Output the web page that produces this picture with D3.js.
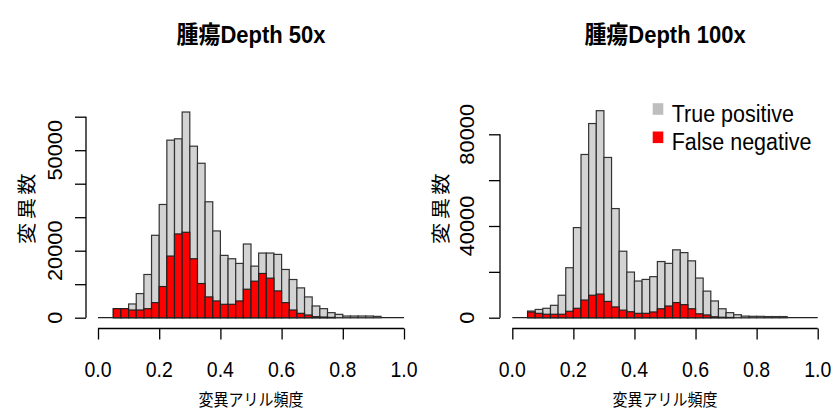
<!DOCTYPE html>
<html>
<head>
<meta charset="utf-8">
<script src="https://cdn.jsdelivr.net/npm/d3@7"></script>
<style>
  html, body { margin: 0; padding: 0; background: #fff; }
  svg { display: block; }
  text { fill: #000; }
</style>
</head>
<body>
<svg id="chart" width="832" height="413"></svg>
<script>
// Histogram bins: allele frequency, width 0.025 starting at 0.05
const binStart = 0.05;
const binWidth = 0.025;

// Depth 50x: all variants (grey) and false negatives (red) per bin
const total50 = [2700, 2700, 4100, 7200, 12900, 24600, 33800, 53000, 53400, 61400,
                 51200, 46100, 34600, 25900, 18600, 17600, 16200, 22000, 15400, 19300,
                 19300, 18900, 14400, 11400, 8900, 6200, 3500, 2700, 1500, 1000,
                 500, 500, 500, 500, 400];
const fn50 = [2700, 2700, 2300, 2300, 2700, 4500, 9300, 18400, 25000, 25500,
              17600, 10200, 6200, 5000, 4000, 4000, 5000, 8500, 10900, 13200,
              11800, 8000, 4500, 2300, 1300, 800, 300, 200, 100, 0,
              0, 0, 0, 0, 0];

// Depth 100x
const total100 = [2900, 3600, 4100, 5400, 9800, 21800, 39300, 71200, 84700, 90300,
                  69900, 47600, 29000, 19900, 16000, 16700, 17900, 24500, 23700, 29600,
                  28400, 24800, 17300, 11600, 7300, 3900, 2200, 1300, 700, 600,
                  600, 500, 500, 500];
const fn100 = [2500, 1900, 1500, 1500, 1500, 2800, 4100, 7700, 9800, 10300,
               7100, 4700, 3300, 2600, 1900, 1900, 2500, 3900, 5100, 6600,
               5700, 3900, 1700, 1200, 400, 200, 100, 0, 0, 0,
               0, 0, 0, 0];

const xTicks = [0, 0.2, 0.4, 0.6, 0.8, 1.0];
const yTicks50 = [0, 10000, 20000, 30000, 40000, 50000, 60000];
const yLabels50 = [0, 20000, 50000];
const yTicks100 = [0, 20000, 40000, 60000, 80000];
const yLabels100 = [0, 40000, 80000];

const titles = ["腫瘍Depth 50x", "腫瘍Depth 100x"];
const xTitle = "変異アリル頻度";
const yTitle = "変異数";
const legendLabels = ["True positive", "False negative"];

const svg = d3.select("#chart");
const latin = "'Liberation Sans', Arial, 'Noto Sans CJK JP', sans-serif";
const cjk = "'Noto Sans CJK JP', 'Liberation Sans', sans-serif";

function panel(cfg) {
  const x = d3.scaleLinear().domain([0, 1]).range([cfg.x0, cfg.x1]);
  const y = d3.scaleLinear().domain([0, cfg.yMax]).range([317.7, cfg.yTop]);
  const g = svg.append("g");

  const bins = cfg.total.map((t, i) => ({
    lo: binStart + i * binWidth,
    hi: binStart + (i + 1) * binWidth,
    total: t,
    fn: cfg.fn[i]
  }));

  // zero line across the frequency range
  g.append("line")
    .attr("x1", x(0)).attr("x2", x(1))
    .attr("y1", y(0)).attr("y2", y(0))
    .attr("stroke", "#222").attr("stroke-width", 1.2);

  // all variants
  g.selectAll("rect.tot").data(bins).join("rect")
    .attr("class", "tot")
    .attr("x", d => x(d.lo)).attr("width", d => x(d.hi) - x(d.lo))
    .attr("y", d => y(d.total)).attr("height", d => y(0) - y(d.total))
    .attr("fill", "#d3d3d3").attr("stroke", "#333").attr("stroke-width", 1.2);

  // false negatives drawn over the top
  g.selectAll("rect.fn").data(bins.filter(d => d.fn > 0)).join("rect")
    .attr("class", "fn")
    .attr("x", d => x(d.lo)).attr("width", d => x(d.hi) - x(d.lo))
    .attr("y", d => y(d.fn)).attr("height", d => y(0) - y(d.fn))
    .attr("fill", "#ff0000").attr("stroke", "#222").attr("stroke-width", 1.2);

  // x axis
  const xAxis = d3.axisBottom(x).tickValues(xTicks).tickSize(11).tickFormat("");
  const xa = g.append("g").attr("transform", "translate(0,328.5)").call(xAxis);
  xa.select(".domain").attr("stroke", "#000").attr("stroke-width", 1.3)
    .attr("d", `M${x(0)},0H${x(1)}`);
  xa.selectAll(".tick line").attr("stroke", "#000").attr("stroke-width", 1.3);

  xTicks.forEach(v => {
    g.append("text")
      .attr("transform", `translate(${x(v)},377) scale(1,1.1)`)
      .attr("text-anchor", "middle")
      .style("font-family", latin).style("font-size", "19.5px")
      .text(d3.format(".1f")(v));
  });

  // y axis
  const yAxis = d3.axisLeft(y).tickValues(cfg.yTicks).tickSize(11).tickFormat("");
  const ya = g.append("g").attr("transform", `translate(${cfg.yAxisX},0)`).call(yAxis);
  ya.select(".domain").attr("stroke", "#000").attr("stroke-width", 1.3)
    .attr("d", `M0,${y(cfg.yTicks[cfg.yTicks.length - 1])}V${y(0)}`);
  ya.selectAll(".tick line").attr("stroke", "#000").attr("stroke-width", 1.3);

  cfg.yLabels.forEach(v => {
    g.append("text")
      .attr("transform", `translate(${cfg.yLabelX},${y(v)}) rotate(-90) scale(1.12,1)`)
      .attr("text-anchor", "middle")
      .style("font-family", latin).style("font-size", "19.5px")
      .text(v);
  });

  // titles
  g.append("text")
    .attr("transform", `translate(${(x(0) + x(1)) / 2},43) scale(1,1.08)`)
    .attr("text-anchor", "middle")
    .style("font-family", latin).style("font-size", "22px").style("font-weight", "bold")
    .text(cfg.title);

  g.append("text")
    .attr("transform", `translate(${(x(0) + x(1)) / 2},399.5) scale(1,1.1)`)
    .attr("text-anchor", "middle").attr("dominant-baseline", "central")
    .style("font-family", cjk).style("font-size", "15px")
    .text(xTitle);

  g.append("text")
    .attr("transform", `translate(${cfg.yTitleX},207) rotate(-90) scale(1.12,1)`)
    .attr("text-anchor", "middle").attr("dominant-baseline", "central")
    .style("font-family", cjk).style("font-size", "19px").style("letter-spacing", "3px")
    .text(yTitle);

  return { x, y, g };
}

panel({ x0: 98, x1: 404, yMax: 60000, yTop: 116.7, total: total50, fn: fn50,
        yTicks: yTicks50, yLabels: yLabels50, yAxisX: 86, yLabelX: 61.5, yTitleX: 26,
        title: titles[0] });
panel({ x0: 512.3, x1: 817.7, yMax: 80000, yTop: 134.3, total: total100, fn: fn100,
        yTicks: yTicks100, yLabels: yLabels100, yAxisX: 500, yLabelX: 473.5, yTitleX: 440,
        title: titles[1] });

// legend
const legendColors = ["#bebebe", "#ff0000"];
const legendY = [121.7, 150];
const lg = svg.append("g");
legendLabels.forEach((lab, i) => {
  lg.append("rect")
    .attr("x", 652.7).attr("y", legendY[i] - 18.5)
    .attr("width", 10.6).attr("height", 11.6)
    .attr("fill", legendColors[i]);
  lg.append("text")
    .attr("transform", `translate(671.7,${legendY[i]}) scale(1,1.15)`)
    .style("font-family", latin).style("font-size", "21.5px")
    .text(lab);
});
</script>
</body>
</html>
